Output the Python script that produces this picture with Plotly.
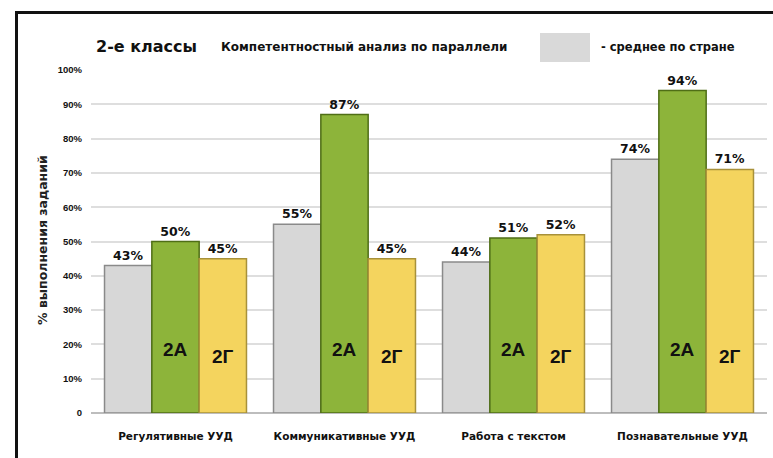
import plotly.graph_objects as go

categories = ["Регулятивные УУД", "Коммуникативные УУД", "Работа с текстом", "Познавательные УУД"]
country_avg = [43, 55, 44, 74]
class_2a = [50, 87, 51, 94]
class_2g = [45, 45, 52, 71]
y_ticks = [0, 10, 20, 30, 40, 50, 60, 70, 80, 90, 100]
y_tick_labels = ["0"] + [f"{v}%" for v in y_ticks[1:]]

FONT = "Liberation Sans"
FONT_W = "DejaVu Sans"
W, H = 773, 458
L, R, T, B = 91, 6, 70, 45
pw = W - L - R
ph = H - T - B

def px_x(p):
    return (p - L) / pw

def px_y(p):
    return (H - B - p) / ph

fig = go.Figure()
series = [
    ("Среднее по стране", country_avg, "#d7d7d7", "#8a8a8a"),
    ("2А", class_2a, "#8db43a", "#4f6e16"),
    ("2Г", class_2g, "#f4d45e", "#a8913a"),
]
for name, vals, fill, edge in series:
    fig.add_trace(go.Bar(
        x=categories, y=vals, name=name,
        marker=dict(color=fill, line=dict(color=edge, width=1.5)),
        text=[f"{v}%" for v in vals], textposition="outside", cliponaxis=False,
        textfont=dict(family=FONT_W, size=12.5, color="#111111", weight="bold"),
        hoverinfo="x+y",
    ))

bargap = 0.16
bar_w_px = pw / len(categories) * (1 - bargap) / 3

annotations = []
for cat in categories:
    annotations.append(dict(x=cat, xref="x", y=18.5, yref="y", text="<b>2А</b>", showarrow=False,
                            xshift=0, font=dict(family=FONT, size=19, color="#111111")))
    annotations.append(dict(x=cat, xref="x", y=16.5, yref="y", text="<b>2Г</b>", showarrow=False,
                            xshift=bar_w_px, font=dict(family=FONT, size=19, color="#111111")))

annotations += [
    dict(x=px_x(94), y=px_y(47), xref="paper", yref="paper", xanchor="left", yanchor="middle",
         text="<b>2-е классы</b>", showarrow=False, font=dict(family=FONT_W, size=16, color="#111")),
    dict(x=px_x(219), y=px_y(47), xref="paper", yref="paper", xanchor="left", yanchor="middle",
         text="<b>Компетентностный анализ по параллели</b>", showarrow=False,
         font=dict(family=FONT_W, size=12, color="#111")),
    dict(x=px_x(599), y=px_y(47), xref="paper", yref="paper", xanchor="left", yanchor="middle",
         text="<b>- среднее по стране</b>", showarrow=False, font=dict(family=FONT_W, size=11.5, color="#111")),
    dict(x=px_x(42), y=px_y(240), xref="paper", yref="paper", xanchor="center", yanchor="middle",
         text="<b>% выполнения заданий</b>", textangle=-90, showarrow=False,
         font=dict(family=FONT_W, size=12.5, color="#222")),
]

# legend swatch and frame drawn as filled annotation boxes
box_common = dict(xref="paper", yref="paper", text=" ", showarrow=False, borderpad=0, borderwidth=0,
                  font=dict(size=1, color="rgba(0,0,0,0)"))
annotations += [
    dict(x=px_x(540), y=px_y(33), xanchor="left", yanchor="top", width=50, height=29,
         bgcolor="#d9d9d9", **box_common),
    dict(x=px_x(16), y=px_y(11), xanchor="center", yanchor="top", width=3, height=447,
         bgcolor="#111111", **box_common),
    dict(x=px_x(15), y=px_y(12), xanchor="left", yanchor="middle", width=758, height=3,
         bgcolor="#111111", **box_common),
]

fig.update_layout(
    width=W, height=H,
    margin=dict(l=L, r=R, t=T, b=B),
    paper_bgcolor="white", plot_bgcolor="white",
    barmode="group", bargap=bargap, bargroupgap=0,
    showlegend=False,
    annotations=annotations,
    xaxis=dict(showgrid=False, showline=False, ticks="", ticklabelstandoff=15,
               tickfont=dict(family=FONT_W, size=10.5, color="#111", weight="bold")),
    yaxis=dict(range=[0, 100], tickvals=y_ticks, ticktext=y_tick_labels,
               showgrid=True, gridcolor="#dedede", gridwidth=2,
               zeroline=True, zerolinecolor="#bdbdbd", zerolinewidth=2,
               showline=False, ticks="", ticklabelstandoff=8,
               tickfont=dict(family=FONT, size=9.5, color="#111", weight="bold")),
)

fig.write_html("out.html", config={"displayModeBar": False},
               post_script="document.body.style.margin='0';document.body.style.overflow='hidden';"
                           "document.documentElement.style.overflow='hidden';")
